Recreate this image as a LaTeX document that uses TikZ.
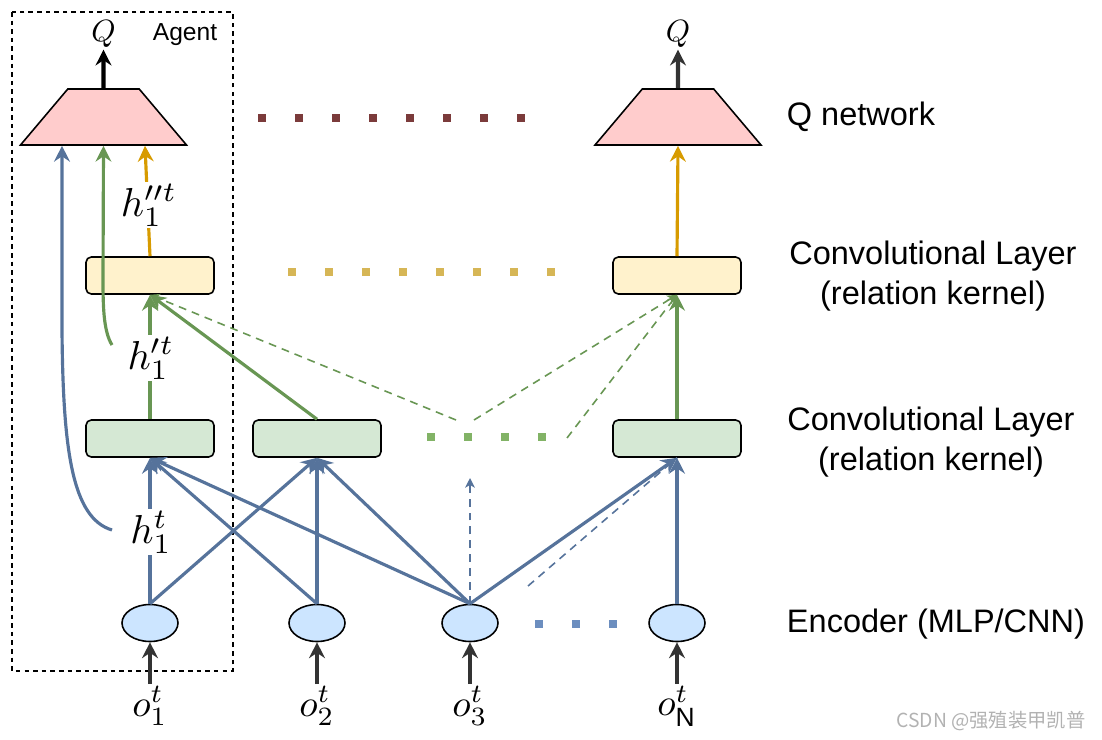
\documentclass[tikz,border=0pt]{standalone}
\usepackage{fontspec}
\setsansfont{Liberation Sans}
\newfontfamily\cjkfont{Noto Sans CJK SC}
\usetikzlibrary{arrows.meta,shapes.geometric,calc}
\newcommand{\mlab}[2][2.3]{\scalebox{#1}{$#2$}}
\definecolor{edgeblue}{RGB}{86,115,155}
\definecolor{edgegreen}{RGB}{104,150,83}
\definecolor{edgeorange}{RGB}{215,155,0}
\definecolor{edgegray}{RGB}{51,51,51}
\definecolor{encfill}{RGB}{204,229,255}
\definecolor{convbot}{RGB}{213,232,212}
\definecolor{convtop}{RGB}{255,242,204}
\definecolor{qfill}{RGB}{255,204,204}
\definecolor{dotbrown}{RGB}{123,59,59}
\definecolor{dotgold}{RGB}{214,182,86}
\definecolor{dotgreen}{RGB}{130,179,102}
\definecolor{dotblue}{RGB}{108,142,191}
\begin{document}
\begin{tikzpicture}[x=0.02cm,y=-0.02cm,
  enc/.style={draw,ellipse,fill=encfill,line width=0.9pt,minimum width=1.12cm,minimum height=0.74cm,inner sep=0pt},
  conv/.style={draw,rounded corners=3pt,line width=0.9pt,minimum width=2.56cm,minimum height=0.74cm,inner sep=0pt},
  qnet/.style={draw,trapezium,trapezium angle=59.5,trapezium stretches=true,fill=qfill,line width=0.9pt,minimum width=3.32cm,minimum height=1.12cm,inner sep=1pt},
  lbl/.style={font=\sffamily\fontsize{18.5}{22.7}\selectfont,align=center},
  hid/.style={fill=white,inner sep=1pt},
  big/.style={-{Stealth[length=9pt,width=9pt,inset=3pt]}},
  small/.style={-{Stealth[length=5.5pt,width=5.5pt,inset=1.5pt]}},
  fine/.style={dash pattern=on 4.5pt off 3.4pt,line width=0.9pt}]
\useasboundingbox (0,0) rectangle (1102,740);
% Agent frame
\draw[line width=0.8pt,dash pattern=on 2.6pt off 2.3pt] (12,12) rectangle (233,671);
\node[font=\sffamily\fontsize{14}{16}\selectfont] (agent) at (185,35) {Agent};
% Q networks
\node[qnet] (q1) at (103.5,117) {\phantom{Q}};
\node[qnet] (qN) at (678,117) {\phantom{Q}};
\node[inner sep=1pt] (Q1) at (103.5,34) {\mlab[1.75]{Q}};
\node[inner sep=1pt] (QN) at (678,34) {\mlab[1.75]{Q}};
% Convolutional layers
\node[conv,fill=convtop] (c1) at (150,275.5) {};
\node[conv,fill=convtop] (cN) at (677,275.5) {};
\node[conv,fill=convbot] (g1) at (150,438.5) {};
\node[conv,fill=convbot] (g2) at (317,438.5) {};
\node[conv,fill=convbot] (gN) at (677,438.5) {};
% Encoders and observations
\foreach \n/\x/\s in {1/150/1,2/317/2,3/470/3,N/677/{\mathsf{N}}} {
  \node[enc] (e\n) at (\x,623) {};
  \node[inner sep=1pt] (o\n) at (\x,706) {\mlab[2.15]{o^t_{\s}}};
  \draw[edgegray,line width=2.5pt,big] (o\n) -- (e\n.south);
}
% Free ends
\coordinate (up3) at (470,478);
\coordinate (dN) at (528,586);
\coordinate (v1) at (456,420);
\coordinate (v2) at (474,420);
\coordinate (v3) at (567,438);
\coordinate (hb) at (112,530);
\coordinate (hg) at (112,345);
% Encoder -> first layer
\draw[edgeblue,line width=2.5pt,big] (e1.north) -- (g1.south);
\draw[edgeblue,line width=1.8pt,big] (e1.north) -- (g2.south);
\draw[edgeblue,line width=1.8pt,big] (e2.north) -- (g1.south);
\draw[edgeblue,line width=2pt,big] (e2.north) -- (g2.south);
\draw[edgeblue,line width=1.8pt,big] (e3.north) -- (g1.south);
\draw[edgeblue,line width=1.8pt,big] (e3.north) -- (g2.south);
\draw[edgeblue,line width=1.8pt,big] (e3.north) -- (gN.south);
\draw[edgeblue,fine,small] (e3.north) -- (up3);
\draw[edgeblue,fine] (dN) -- (gN.south);
\draw[edgeblue,line width=2.5pt,big] (eN.north) -- (gN.south);
\node[hid] (h1) at (151,532) {\mlab{h^t_1}};
% First layer -> second layer
\draw[edgegreen,line width=2.2pt,big] (g1.north) -- (c1.south);
\draw[edgegreen,line width=1.8pt,big] (g2.north) -- (c1.south);
\draw[edgegreen,fine,small] (v1) -- (c1.south);
\draw[edgegreen,fine,small] (v2) -- (cN.south);
\draw[edgegreen,fine,small] (v3) -- (cN.south);
\draw[edgegreen,line width=2.2pt,big] (gN.north) -- (cN.south);
\node[hid] (h2) at (151,358) {\mlab{h^{\prime t}_1}};
% Second layer -> Q network
\draw[edgeorange,line width=1.8pt,big] (c1.north) -- ($(q1.south)+(41.5,0)$);
\draw[edgeorange,line width=1.8pt,big] (cN.north) -- (qN.south);
\node[hid] (h3) at (149,205) {\mlab{h^{\prime\prime t}_1}};
% Skip connections
\draw[edgeblue,line width=1.8pt,big] (hb) .. controls (72,518) and (63,450) .. (62,330) -- ($(q1.south)+(-41.5,0)$);
\draw[edgegreen,line width=1.8pt,big] (hg) .. controls (104,332) and (103,310) .. (103,280) -- (q1.south);
% Outputs
\draw[black,line width=2.5pt,big] (q1.north) -- (Q1.south);
\draw[edgegray,line width=2.5pt,big] (qN.north) -- (QN.south);
% Ellipsis dots
\foreach \x in {262,299,...,521} \fill[dotbrown] (\x-4,114) rectangle +(8,8);
\foreach \x in {292,329,...,551} \fill[dotgold] (\x-4,268) rectangle +(8,8);
\foreach \x in {431,468,...,542} \fill[dotgreen] (\x-4,433) rectangle +(8,8);
\foreach \x in {539,576,613} \fill[dotblue] (\x-4,620) rectangle +(8,8);
% Layer names
\node[lbl] (nq) at (861,117) {Q network};
\node[lbl] (nc2) at (933,276) {Convolutional Layer\\(relation kernel)};
\node[lbl] (nc1) at (931,442) {Convolutional Layer\\(relation kernel)};
\node[lbl] (ne) at (936,624) {Encoder (MLP/CNN)};
% Watermark
\node[font=\cjkfont\fontsize{11}{13}\selectfont,text=gray!60] (wm) at (991,721) {CSDN @强殖装甲凯普};
\end{tikzpicture}
\end{document}
